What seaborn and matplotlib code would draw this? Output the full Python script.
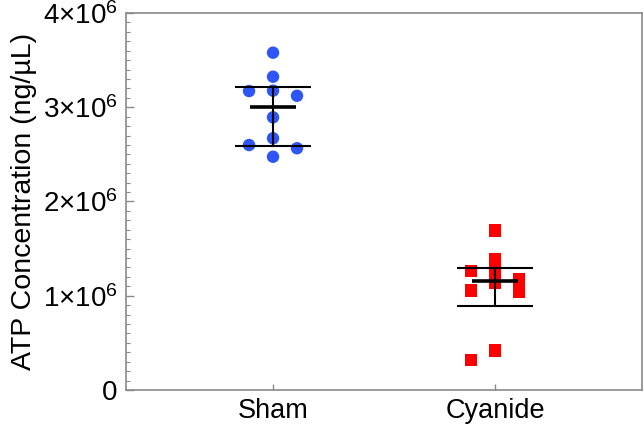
import numpy as np
import pandas as pd
import matplotlib
matplotlib.use("Agg")
import matplotlib.pyplot as plt
import seaborn as sns
from matplotlib.ticker import FixedLocator, MultipleLocator

categories = ["Sham", "Cyanide"]
sham_values = [3.579e6, 3.324e6, 3.172e6, 3.176e6, 3.122e6, 2.893e6, 2.671e6, 2.599e6, 2.565e6, 2.475e6]
cyanide_values = [1.690e6, 1.390e6, 1.265e6, 1.135e6, 1.260e6, 1.045e6, 1.180e6, 1.054e6, 0.421e6, 0.321e6]
y_ticks = [0, 1e6, 2e6, 3e6, 4e6]
y_tick_labels = ["0", r"$1{\times}10^6$", r"$2{\times}10^6$", r"$3{\times}10^6$", r"$4{\times}10^6$"]
colors = {"Sham": "#2E55F6", "Cyanide": "#FF0000"}
markers = {"Sham": "o", "Cyanide": "s"}

YMAX = 4e6
XLIM = (-0.662, 1.662)
AX_RECT = [0.1957, 0.0824, 0.8013, 0.887]
FIG_W, FIG_H = 644, 425


def scatter_offsets(vals, step, ypx_per_unit, min_dist_px, xpx_per_unit):
    """Deterministic GraphPad-like column scatter: place points, largest first,
    at the first free offset among 0, -step, +step, -2*step, ..."""
    order = np.argsort(vals)[::-1]
    placed = []
    offs = np.zeros(len(vals))
    cands = [0, -1, 1, -2, 2, -3, 3]
    for idx in order:
        y = vals[idx] * ypx_per_unit
        for c in cands:
            x = c * step * xpx_per_unit
            ok = all(np.hypot(x - px, y - py) >= min_dist_px for px, py in placed)
            if ok:
                offs[idx] = c * step
                placed.append((x, y))
                break
    return offs


ax_w_px = AX_RECT[2] * FIG_W
ax_h_px = AX_RECT[3] * FIG_H
xpx = ax_w_px / (XLIM[1] - XLIM[0])
ypx = ax_h_px / YMAX

groups, values, xpos = [], [], []
for i, (cat, vals) in enumerate(zip(categories, [sham_values, cyanide_values])):
    v = np.array(vals)
    offs = scatter_offsets(v, 0.108, ypx, 11.5, xpx)
    groups += [cat] * len(v)
    values += list(v)
    xpos += list(i + offs)

df = pd.DataFrame({"group": groups, "value": values, "x": xpos})

sns.set_theme(style="white")
plt.rcParams["font.family"] = ["Liberation Sans", "DejaVu Sans"]
plt.rcParams["mathtext.fontset"] = "custom"
plt.rcParams["mathtext.rm"] = "Liberation Sans"
plt.rcParams["mathtext.it"] = "Liberation Sans"
plt.rcParams["mathtext.default"] = "regular"
plt.rcParams["text.color"] = "black"
plt.rcParams["axes.labelcolor"] = "black"
plt.rcParams["xtick.color"] = "black"
plt.rcParams["ytick.color"] = "black"

fig = plt.figure(figsize=(FIG_W / 100, FIG_H / 100), dpi=100)
ax = fig.add_axes(AX_RECT)

sns.scatterplot(data=df, x="x", y="value", hue="group", style="group",
                hue_order=categories, style_order=categories,
                palette=colors, markers=markers, s=80, linewidth=0,
                legend=False, ax=ax, zorder=2)

for i, cat in enumerate(categories):
    vals = df.loc[df["group"] == cat, "value"].to_numpy()
    med = np.median(vals)
    q1, q3 = np.percentile(vals, [25, 75], method="weibull")
    ax.vlines(i, q1, q3, color="black", lw=1.5, zorder=3)
    ax.hlines([q1, q3], i - 0.171, i + 0.171, color="black", lw=1.5, zorder=3)
    ax.hlines(med, i - 0.105, i + 0.105, color="black", lw=2.6, zorder=3)

ax.set_xlim(*XLIM)
ax.set_ylim(0, YMAX)
ax.set_xticks(range(len(categories)))
ax.set_xticklabels(categories)
ax.yaxis.set_major_locator(FixedLocator(y_ticks))
ax.set_yticklabels(y_tick_labels)
ax.yaxis.set_minor_locator(MultipleLocator(1e5))
ax.set_xlabel("")
ax.set_ylabel("ATP Concentration (ng/µL)", fontsize=20.5, labelpad=4)

for s in ax.spines.values():
    s.set_color("#8a8a8a")
    s.set_linewidth(1.2)

ax.tick_params(axis="y", which="major", direction="in", length=6, width=1, color="#8a8a8a",
               labelsize=20, pad=6, left=True, labelcolor="black")
ax.tick_params(axis="y", which="minor", direction="in", length=3, width=0.8, color="#8a8a8a", left=True)
ax.tick_params(axis="x", which="major", direction="in", length=4, width=1, color="#8a8a8a",
               labelsize=19.5, pad=6, bottom=True, labelcolor="black")

fig.savefig("out.png", dpi=100)
